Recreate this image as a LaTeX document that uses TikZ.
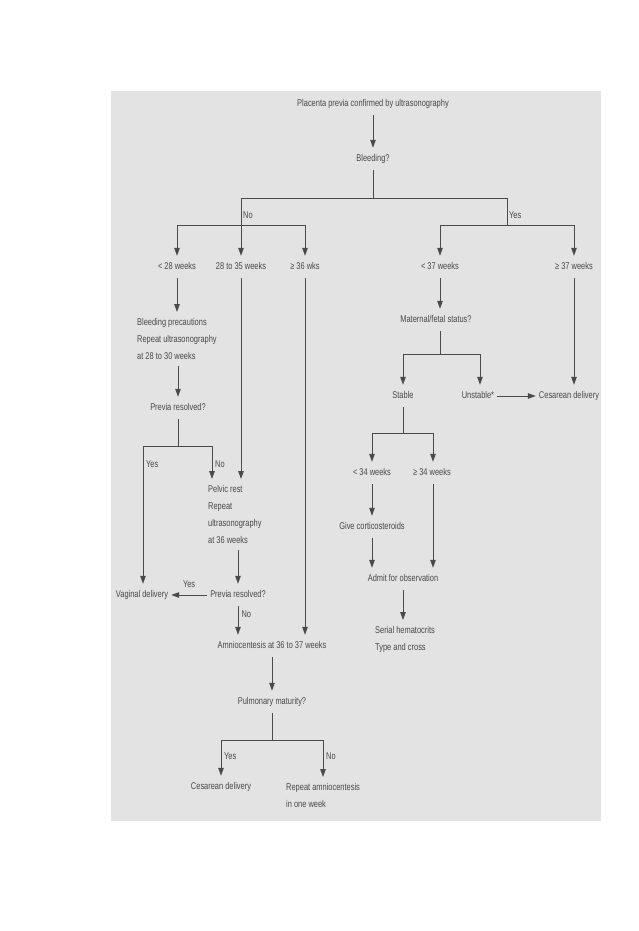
\documentclass[tikz,border=0pt]{standalone}
\usepackage{fontspec}
\setmainfont{Liberation Sans}[FakeStretch=0.76]
\usetikzlibrary{arrows.meta}
\definecolor{PPpanel}{HTML}{E3E3E3}
\definecolor{PPink}{HTML}{484848}
\definecolor{PPline}{HTML}{4A4A4A}
\tikzset{
  pptxt/.style={text=PPink, font=\fontsize{9.8}{16.8}\selectfont, inner xsep=3pt,
    inner ysep=6.5pt, text height=7pt, text depth=2pt},
  ppblock/.style={text=PPink, font=\fontsize{9.8}{16.8}\selectfont, align=left,
    inner xsep=0pt, inner ysep=6.5pt, anchor=north west},
  pplbl/.style={text=PPink, font=\fontsize{9.8}{11}\selectfont, inner sep=1pt,
    text height=7pt, text depth=2pt},
  pparr/.style={-{Triangle[length=8pt,width=5.5pt]}, line width=1pt, draw=PPline},
  ppline/.style={line width=1pt, draw=PPline},
}

\begin{document}
\begin{tikzpicture}[x=1pt, y=-1pt]
  \useasboundingbox (0,0) rectangle (638,931);
  \fill[PPpanel] (111,91) rectangle (601,821);
  % top
  \node[pptxt] (conf) at (373,104) {Placenta previa confirmed by ultrasonography};
  \node[pptxt] (bleed) at (373,159) {Bleeding?};
  \coordinate (bsplit) at (373,198);
  \coordinate (bno) at (241,198);
  \coordinate (byes) at (507,198);
  \draw[pparr] (conf) -- (bleed);
  \draw[ppline] (bleed) -- (bsplit);
  \draw[ppline] (bno) -- (byes);
  \node[pplbl, anchor=west] (lno) at (242,216) {No};
  \node[pplbl, anchor=west] (lyes) at (508,216) {Yes};
  % no bleeding
  \node[pptxt] (lt28) at (177,267) {< 28 weeks};
  \node[pptxt] (w2835) at (241,267) {28 to 35 weeks};
  \node[pptxt] (ge36) at (305,267) {≥ 36 wks};
  \coordinate (nol) at (177,225);
  \coordinate (nor) at (305,225);
  \draw[ppline] (nol) -- (nor);
  \draw[pparr] (nol) -- (lt28);
  \draw[pparr] (bno) -- (w2835);
  \draw[pparr] (nor) -- (ge36);
  \node[ppblock] (prec) at (137,312) {Bleeding precautions\\Repeat ultrasonography\\at 28 to 30 weeks};
  \node[pptxt] (res1) at (178,408) {Previa resolved?};
  \draw[pparr] (lt28) -- (lt28 |- prec.north);
  \draw[pparr] (res1 |- prec.south) -- (res1);
  \coordinate (r1mid) at (178,446);
  \coordinate (r1l) at (143,446);
  \coordinate (r1r) at (212,446);
  \draw[ppline] (res1) -- (r1mid);
  \draw[ppline] (r1l) -- (r1r);
  \node[pptxt] (vag) at (142,595) {Vaginal delivery};
  \node[ppblock] (pelvic) at (208,479) {Pelvic rest\\Repeat\\ultrasonography\\at 36 weeks};
  \draw[pparr] (r1l) -- (r1l |- vag.north);
  \draw[pparr] (r1r) -- (r1r |- pelvic.north);
  \draw[pparr] (w2835) -- (w2835 |- pelvic.north);
  \node[pplbl, anchor=west] (lyes1) at (145,465) {Yes};
  \node[pplbl, anchor=west] (lno1) at (214,465) {No};
  \node[pptxt] (res2) at (238,595) {Previa resolved?};
  \draw[pparr] (res2 |- pelvic.south) -- (res2);
  \draw[pparr] (res2) -- (vag) node[pplbl, midway, above=4pt] (lyes2) {Yes};
  \node[pptxt] (amnio) at (272,646) {Amniocentesis at 36 to 37 weeks};
  \draw[pparr] (res2) -- (res2 |- amnio.north) node[pplbl, pos=0.3, anchor=west, xshift=2pt] (lno2) {No};
  \draw[pparr] (ge36) -- (ge36 |- amnio.north);
  \node[pptxt] (pulm) at (272,702) {Pulmonary maturity?};
  \draw[pparr] (amnio) -- (pulm);
  \coordinate (pmid) at (272,740);
  \coordinate (pl) at (221,740);
  \coordinate (pr) at (323,740);
  \draw[ppline] (pulm) -- (pmid);
  \draw[ppline] (pl) -- (pr);
  \node[pptxt] (ces1) at (221,787) {Cesarean delivery};
  \node[ppblock] (rep) at (286,777) {Repeat amniocentesis\\in one week};
  \draw[pparr] (pl) -- (ces1);
  \draw[pparr] (pr) -- (pr |- rep.north);
  \node[pplbl, anchor=west] (lyes3) at (223,757) {Yes};
  \node[pplbl, anchor=west] (lno3) at (325,757) {No};
  % bleeding
  \node[pptxt] (lt37) at (440,267) {< 37 weeks};
  \node[pptxt] (ge37) at (574,267) {≥ 37 weeks};
  \coordinate (ysplit) at (507,225);
  \coordinate (yl) at (440,225);
  \coordinate (yr) at (574,225);
  \draw[ppline] (byes) -- (ysplit);
  \draw[ppline] (yl) -- (yr);
  \draw[pparr] (yl) -- (lt37);
  \draw[pparr] (yr) -- (ge37);
  \node[pptxt] (mat) at (436,320) {Maternal/fetal status?};
  \draw[pparr] (lt37) -- (lt37 |- mat.north);
  \coordinate (mmid) at (440,354);
  \coordinate (ml) at (403,354);
  \coordinate (mr) at (480,354);
  \draw[ppline] (lt37 |- mat.south) -- (mmid);
  \draw[ppline] (ml) -- (mr);
  \node[pptxt] (stable) at (403,396) {Stable};
  \node[pptxt] (unst) at (478,396) {Unstable*};
  \node[pptxt] (ces2) at (569,396) {Cesarean delivery};
  \draw[pparr] (ml) -- (stable);
  \draw[pparr] (mr) -- (mr |- unst.north);
  \draw[pparr] (unst) -- (ces2);
  \draw[pparr] (ge37) -- (ge37 |- ces2.north);
  \coordinate (smid) at (403,433);
  \coordinate (sl) at (372,433);
  \coordinate (sr) at (433,433);
  \draw[ppline] (stable) -- (smid);
  \draw[ppline] (sl) -- (sr);
  \node[pptxt] (lt34) at (372,473) {< 34 weeks};
  \node[pptxt] (ge34) at (432,473) {≥ 34 weeks};
  \draw[pparr] (sl) -- (lt34);
  \draw[pparr] (sr) -- (sr |- ge34.north);
  \node[pptxt] (cort) at (372,527) {Give corticosteroids};
  \node[pptxt] (admit) at (403,579) {Admit for observation};
  \node[ppblock] (serial) at (375,620) {Serial hematocrits\\Type and cross};
  \draw[pparr] (lt34) -- (cort);
  \draw[pparr] (cort) -- (cort |- admit.north);
  \draw[pparr] (sr |- ge34.south) -- (sr |- admit.north);
  \draw[pparr] (admit) -- (admit |- serial.north);
\end{tikzpicture}
\end{document}
